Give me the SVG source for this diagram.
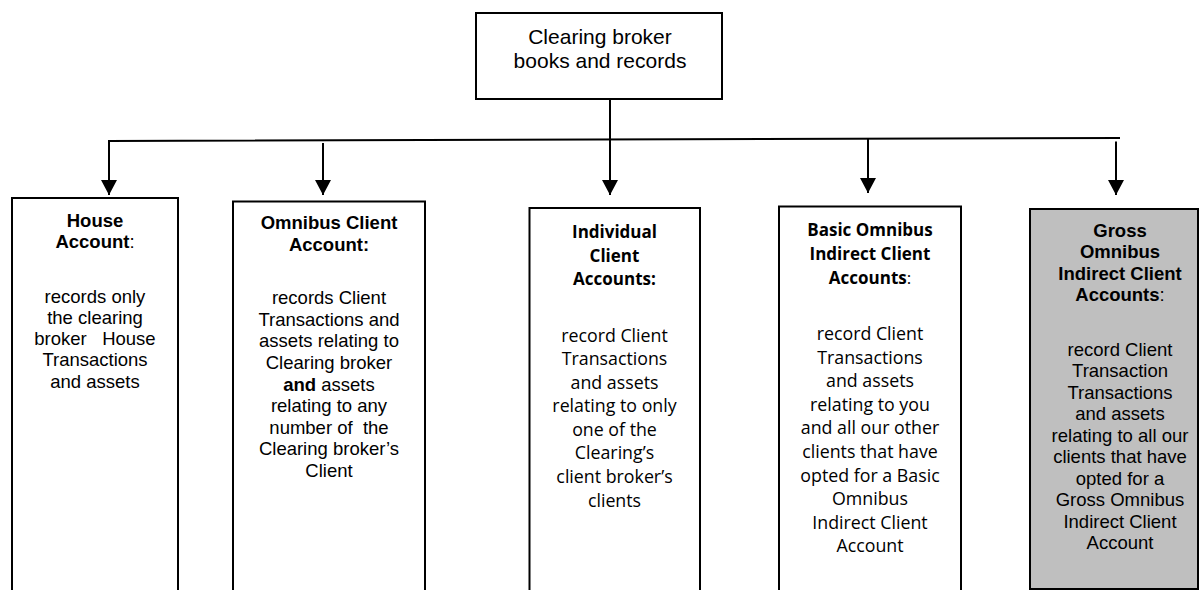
<svg xmlns="http://www.w3.org/2000/svg" width="1199" height="590" viewBox="0 0 1199 590">
<style>
.box{fill:#ffffff;stroke:#000000;stroke-width:2}
.gray{fill:#bfbfbf;stroke:#000000;stroke-width:2}
.ar{font-family:"Liberation Sans",Arial,sans-serif;font-size:18.5px;fill:#000;text-anchor:middle}
.top{font-family:"Liberation Sans",Arial,sans-serif;font-size:21px;fill:#000;text-anchor:middle}
.rd{font-family:"Open Sans","Noto Sans",sans-serif;font-size:17.8px;fill:#000;text-anchor:middle}
.b{font-weight:bold}
.rd.b{font-size:17px}
.n{font-weight:normal}
.con{stroke:#000;stroke-width:2;fill:none}
</style>
<defs>
<marker id="ah" markerUnits="userSpaceOnUse" markerWidth="16" markerHeight="16" refX="15" refY="8" orient="auto">
<path d="M0,0 L15,8 L0,16 z" fill="#000"/>
</marker>
</defs>
<g id="connectors">
<line class="con" x1="610" y1="99" x2="610" y2="195" marker-end="url(#ah)"/>
<polyline class="con" points="109,195 109,141 1120,138"/>
<line class="con" x1="109" y1="150" x2="109" y2="195" marker-end="url(#ah)"/>
<line class="con" x1="323" y1="143" x2="323" y2="195" marker-end="url(#ah)"/>
<line class="con" x1="868" y1="138" x2="868" y2="193" marker-end="url(#ah)"/>
<line class="con" x1="1116" y1="141.5" x2="1116" y2="195" marker-end="url(#ah)"/>
</g>
<g id="root">
<rect class="box" x="476" y="13" width="246" height="86"/>
<text class="top" x="600" y="44">Clearing broker</text>
<text class="top" x="600" y="67.5">books and records</text>
</g>
<g id="house">
<rect class="box" x="12" y="198" width="166" height="420"/>
<text class="ar b" x="95" y="226.7">House</text>
<text class="ar b" x="95" y="248.3">Account<tspan class="n">:</tspan></text>
<text class="ar" x="95" y="302.7">records only</text>
<text class="ar" x="95" y="323.9">the clearing</text>
<text class="ar" x="95" y="345.1" xml:space="preserve">broker   House</text>
<text class="ar" x="95" y="366.3">Transactions</text>
<text class="ar" x="95" y="387.5">and assets</text>
</g>
<g id="omnibus">
<rect class="box" x="233" y="201.5" width="192" height="420"/>
<text class="ar b" x="329" y="229.3">Omnibus Client</text>
<text class="ar b" x="329" y="251">Account:</text>
<text class="ar" x="329" y="304.3">records Client</text>
<text class="ar" x="329" y="325.9">Transactions and</text>
<text class="ar" x="329" y="347.4">assets relating to</text>
<text class="ar" x="329" y="369">Clearing broker</text>
<text class="ar" x="329" y="390.5"><tspan class="b">and</tspan> assets</text>
<text class="ar" x="329" y="412.1">relating to any</text>
<text class="ar" x="329" y="433.6" xml:space="preserve">number of  the</text>
<text class="ar" x="329" y="455.2">Clearing broker’s</text>
<text class="ar" x="329" y="476.7">Client</text>
</g>
<g id="individual">
<rect class="box" x="529.5" y="208" width="170.5" height="420"/>
<text class="rd b" x="614.5" y="238.3">Individual</text>
<text class="rd b" x="614.5" y="261.7">Client</text>
<text class="rd b" x="614.5" y="285">Accounts:</text>
<text class="rd" x="614.5" y="341.7">record Client</text>
<text class="rd" x="614.5" y="365.2">Transactions</text>
<text class="rd" x="614.5" y="388.8">and assets</text>
<text class="rd" x="614.5" y="412.3">relating to only</text>
<text class="rd" x="614.5" y="435.9">one of the</text>
<text class="rd" x="614.5" y="459.4">Clearing’s</text>
<text class="rd" x="614.5" y="483">client broker’s</text>
<text class="rd" x="614.5" y="506.5">clients</text>
</g>
<g id="basic">
<rect class="box" x="779" y="206.5" width="182" height="420"/>
<text class="rd b" x="870" y="235.7">Basic Omnibus</text>
<text class="rd b" x="870" y="260">Indirect Client</text>
<text class="rd b" x="870" y="284">Accounts<tspan class="n">:</tspan></text>
<text class="rd" x="870" y="340">record Client</text>
<text class="rd" x="870" y="363.6">Transactions</text>
<text class="rd" x="870" y="387.2">and assets</text>
<text class="rd" x="870" y="410.8">relating to you</text>
<text class="rd" x="870" y="434.4">and all our other</text>
<text class="rd" x="870" y="458">clients that have</text>
<text class="rd" x="870" y="481.6">opted for a Basic</text>
<text class="rd" x="870" y="505.2">Omnibus</text>
<text class="rd" x="870" y="528.8">Indirect Client</text>
<text class="rd" x="870" y="552.4">Account</text>
</g>
<g id="gross">
<rect class="gray" x="1030" y="209" width="168" height="380"/>
<text class="ar b" x="1120" y="236.7">Gross</text>
<text class="ar b" x="1120" y="258.2">Omnibus</text>
<text class="ar b" x="1120" y="279.7">Indirect Client</text>
<text class="ar b" x="1120" y="301.2">Accounts<tspan class="n">:</tspan></text>
<text class="ar" x="1120" y="355.5">record Client</text>
<text class="ar" x="1120" y="377">Transaction</text>
<text class="ar" x="1120" y="398.6">Transactions</text>
<text class="ar" x="1120" y="420.1">and assets</text>
<text class="ar" x="1120" y="441.7">relating to all our</text>
<text class="ar" x="1120" y="463.2">clients that have</text>
<text class="ar" x="1120" y="484.8">opted for a</text>
<text class="ar" x="1120" y="506.3">Gross Omnibus</text>
<text class="ar" x="1120" y="527.9">Indirect Client</text>
<text class="ar" x="1120" y="549.4">Account</text>
</g>
</svg>
